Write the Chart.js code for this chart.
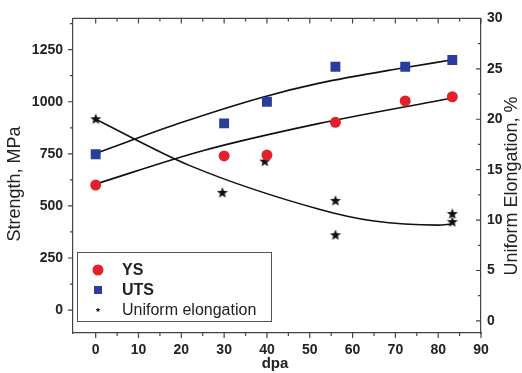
<!DOCTYPE html>
<html>
<head>
<meta charset="utf-8">
<script src="https://cdn.jsdelivr.net/npm/chart.js@4"></script>
<style>
  html, body { margin: 0; padding: 0; background: #fff; }
  #wrap { width: 522px; height: 373px; }
</style>
</head>
<body>
<div id="wrap"><canvas id="myChart" width="522" height="373"></canvas></div>
<script>
// measured points (dpa vs strength / elongation)
let dpa = [0, 30, 40, 56, 72.3, 83.3];
let ys = [600, 740, 744, 901, 1004, 1024];
let uts = [748, 896, 1000, 1168, 1168, 1200];

let elongDpa = [0, 29.6, 39.5, 56, 56, 83.3, 83.3];
let elong = [20.0, 12.7, 15.8, 11.9, 8.5, 10.6, 9.8];

// fit curves
let ysFitX = [0, 25, 52, 83];
let ysFitY = [605, 765, 895, 1017];
let utsFitX = [0, 20, 39, 52, 72, 83];
let utsFitY = [752, 900, 1022, 1088, 1163, 1200];
let elongFitX = [0, 22, 52.4, 65, 80, 83];
let elongFitY = [20.0, 15.4, 11.05, 9.9, 9.5, 9.6];

// tick labels
let xTicks = [0, 10, 20, 30, 40, 50, 60, 70, 80, 90];
let strengthTicks = [0, 250, 500, 750, 1000, 1250];
let elongTicks = [0, 5, 10, 15, 20, 25, 30];

const FONT = "'Liberation Sans', Arial, sans-serif";
const RED = '#e3202b';
const BLUE = '#2a3c9c';

function pts(xs, ys) {
    return xs.map((x, i) => ({x: x, y: ys[i]}));
}

function starImage(r) {
    const c = document.createElement('canvas');
    const s = Math.ceil(r * 2 + 2);
    c.width = s; c.height = s;
    const g = c.getContext('2d');
    g.beginPath();
    for (let i = 0; i < 10; i++) {
        const a = -Math.PI / 2 + i * Math.PI / 5;
        const rr = i % 2 ? r * 0.42 : r;
        g.lineTo(s / 2 + rr * Math.cos(a), s / 2 + rr * Math.sin(a));
    }
    g.closePath();
    g.fillStyle = '#111';
    g.fill();
    return c;
}
const star = starImage(5.8);
const smallStar = starImage(2.6);

function fixTicks(list) {
    return function (scale) {
        scale.ticks = list.map(v => ({value: v}));
    };
}

// minor/major tick marks, titles and legend
const decor = {
    id: 'decor',
    afterDraw(chart) {
        const ctx = chart.ctx;
        const a = chart.chartArea;
        const sx = chart.scales.x, sy = chart.scales.y, sy1 = chart.scales.y1;
        ctx.save();
        ctx.strokeStyle = '#444';
        ctx.lineWidth = 1.2;
        ctx.beginPath();
        // top border
        ctx.moveTo(a.left, a.top); ctx.lineTo(a.right, a.top);
        for (let v = 0; v <= 90; v += 5) {
            const x = sx.getPixelForValue(v);
            const len = v % 10 === 0 ? 5 : 3;
            ctx.moveTo(x, a.bottom); ctx.lineTo(x, a.bottom + len);
            ctx.moveTo(x, a.top); ctx.lineTo(x, a.top + len);
        }
        for (let v = 0; v <= 1375; v += 125) {
            const y = sy.getPixelForValue(v);
            const len = v % 250 === 0 ? 5 : 3;
            ctx.moveTo(a.left, y); ctx.lineTo(a.left - len, y);
        }
        for (let v = 0; v <= 30; v += 2.5) {
            const y = sy1.getPixelForValue(v);
            const len = v % 5 === 0 ? 5 : 3;
            ctx.moveTo(a.right, y); ctx.lineTo(a.right - len, y);
        }
        ctx.stroke();

        // axis titles
        ctx.fillStyle = '#222';
        ctx.textAlign = 'center';
        ctx.textBaseline = 'middle';
        ctx.font = '18px ' + FONT;
        ctx.save();
        ctx.translate(15, 184);
        ctx.rotate(-Math.PI / 2);
        ctx.fillText('Strength, MPa', 0, 0);
        ctx.restore();
        ctx.save();
        ctx.translate(512, 186);
        ctx.rotate(-Math.PI / 2);
        ctx.fillText('Uniform Elongation, %', 0, 0);
        ctx.restore();
        ctx.font = 'bold 15px ' + FONT;
        ctx.fillText('dpa', 275, 364);

        // legend
        ctx.fillStyle = '#fff';
        ctx.fillRect(77, 252, 195, 70);
        ctx.strokeStyle = '#555';
        ctx.lineWidth = 1;
        ctx.strokeRect(77.5, 252.5, 194, 69);
        const ds = chart.data.datasets;
        const rows = [270, 290, 310];
        ctx.textAlign = 'left';
        for (let i = 0; i < 3; i++) {
            const y = rows[i];
            if (i === 0) {
                ctx.fillStyle = RED;
                ctx.beginPath(); ctx.arc(98, y, 5.5, 0, Math.PI * 2); ctx.fill();
                ctx.font = 'bold 16px ' + FONT;
            } else if (i === 1) {
                ctx.fillStyle = BLUE;
                ctx.fillRect(94, y - 4, 8, 8);
                ctx.font = 'bold 16px ' + FONT;
            } else {
                ctx.drawImage(smallStar, 98 - smallStar.width / 2, y - smallStar.height / 2);
                ctx.font = '16px ' + FONT;
            }
            ctx.fillStyle = '#222';
            ctx.fillText(ds[i].label, 122, y + 1);
        }
        ctx.restore();
    }
};

const tickFont = {family: FONT, size: 14, weight: 700};
const plain = v => String(v);

let data = {
    datasets: [
        {label: 'YS', data: pts(dpa, ys), yAxisID: 'y', pointStyle: 'circle', pointRadius: 5.5,
            backgroundColor: RED, borderColor: RED, borderWidth: 0, order: 1},
        {label: 'UTS', data: pts(dpa, uts), yAxisID: 'y', pointStyle: 'rect', pointRadius: 7,
            backgroundColor: BLUE, borderColor: BLUE, borderWidth: 0, order: 1},
        {label: 'Uniform elongation', data: pts(elongDpa, elong), yAxisID: 'y1', pointStyle: star,
            pointRadius: 6, order: 1},
        {label: 'YS fit', data: pts(ysFitX, ysFitY), yAxisID: 'y', showLine: true, pointRadius: 0,
            borderColor: '#111', borderWidth: 1.6, cubicInterpolationMode: 'monotone', order: 2},
        {label: 'UTS fit', data: pts(utsFitX, utsFitY), yAxisID: 'y', showLine: true, pointRadius: 0,
            borderColor: '#111', borderWidth: 1.6, cubicInterpolationMode: 'monotone', order: 2},
        {label: 'Elongation fit', data: pts(elongFitX, elongFitY), yAxisID: 'y1', showLine: true, pointRadius: 0,
            borderColor: '#111', borderWidth: 1.6, cubicInterpolationMode: 'monotone', order: 2}
    ]
};

let options = {
    responsive: false,
    animation: false,
    layout: {padding: {top: 14}},
    plugins: {legend: {display: false}, tooltip: {enabled: false}},
    scales: {
        x: {
            type: 'linear', position: 'bottom', min: -5.3, max: 90,
            afterBuildTicks: fixTicks(xTicks),
            afterFit: s => { s.height = 40; },
            grid: {display: false, drawTicks: false},
            border: {display: true, color: '#444', width: 1.2},
            ticks: {font: tickFont, color: '#222', padding: 9, maxRotation: 0, callback: plain}
        },
        y: {
            type: 'linear', position: 'left', min: -110, max: 1400,
            afterBuildTicks: fixTicks(strengthTicks),
            afterFit: s => { s.width = 73; },
            grid: {display: false, drawTicks: false},
            border: {display: true, color: '#444', width: 1.2},
            ticks: {font: tickFont, color: '#222', padding: 10, callback: plain}
        },
        y1: {
            type: 'linear', position: 'right', min: -1.2, max: 30,
            afterBuildTicks: fixTicks(elongTicks),
            afterFit: s => { s.width = 41; },
            grid: {display: false, drawTicks: false},
            border: {display: true, color: '#444', width: 1.2},
            ticks: {font: tickFont, color: '#222', padding: 6, callback: plain}
        }
    }
};

const ctx = document.getElementById('myChart');
let myChart = new Chart(ctx, {type: 'scatter', data: data, options: options, plugins: [decor]});
</script>
</body>
</html>
